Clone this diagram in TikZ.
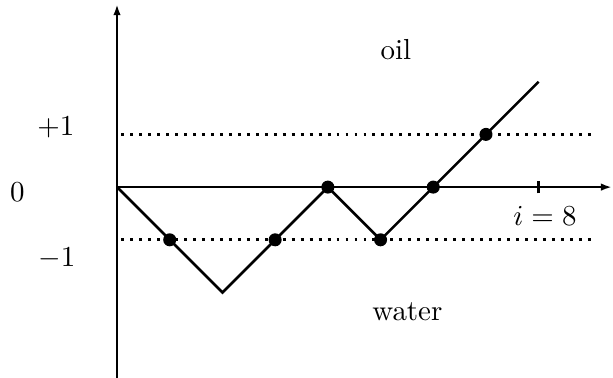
\documentclass[tikz,border=0pt]{standalone}
\usepackage{tikz}
\usetikzlibrary{arrows.meta}

\begin{document}
\begin{tikzpicture}[x=0.64cm,y=0.64cm,>={Latex[length=3.8pt,width=2.6pt]},
  axis/.style={line width=0.9pt},
  level/.style={line width=1pt,dash pattern=on 1pt off 2.1pt},
  walk/.style={line width=0.9pt},
  site/.style={circle,fill,inner sep=0pt,minimum size=4.5pt}]
\useasboundingbox (-2.22,-3.605) rectangle (9.41,3.55);
% axes
\coordinate (O) at (0,0);
\coordinate (ybot) at (0,-3.7);
\coordinate (ytop) at (0,3.47);
\coordinate (xend) at (9.39,0);
\draw[axis,->] (ybot) -- (ytop);
\draw[axis,->] (O) -- (xend);
\draw[axis] (8,-0.12) -- (8,0.12);
% levels +1 and -1
\coordinate (upL) at (0.08,1);  \coordinate (upR) at (9.1,1);
\coordinate (dnL) at (0.08,-1); \coordinate (dnR) at (9.1,-1);
\draw[level] (upL) -- (upR);
\draw[level] (dnL) -- (dnR);
% walk
\foreach \i/\h in {0/0,2/-2,4/0,5/-1,8/2}
  \coordinate (w\i) at (\i,\h);
\draw[walk] (w0) -- (w2) -- (w4) -- (w5) -- (w8);
\foreach \i/\h in {1/-1,3/-1,4/0,5/-1,6/0,7/1}
  \node[site] (s\i) at (\i,\h) {};
% labels
\node (lzero) at (-1.89,-0.1) {$0$};
\node (lplus) at (-1.16,1.13) {$+1$};
\node (lminus) at (-1.14,-1.35) {$-1$};
\node (lend) at (8.12,-0.55) {$i=8$};
\node (oil) at (5.29,2.61) {oil};
\node (water) at (5.51,-2.36) {water};
\end{tikzpicture}
\end{document}
